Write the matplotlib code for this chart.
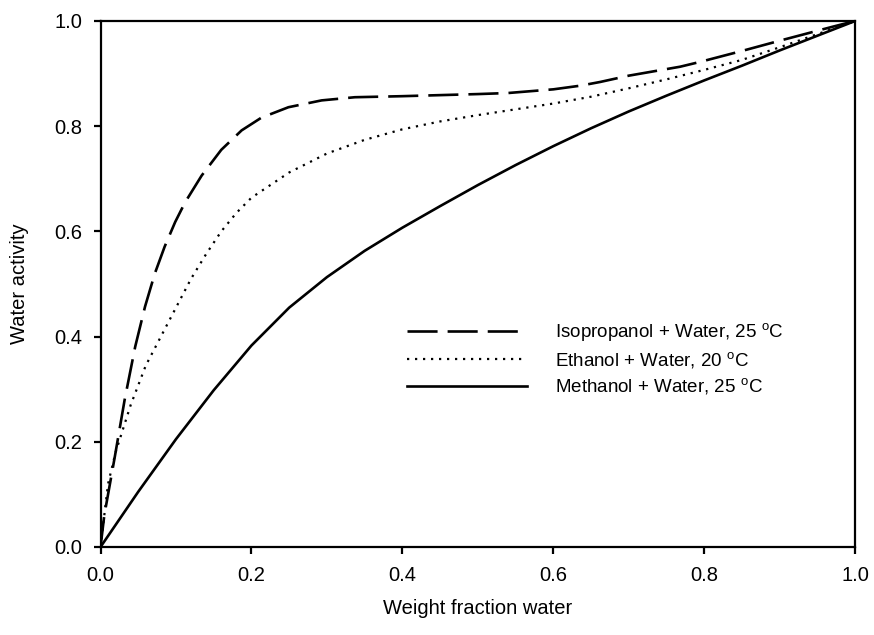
import numpy as np
import matplotlib
matplotlib.use("Agg")
import matplotlib.pyplot as plt

plt.rcParams["font.family"] = ["Liberation Sans", "DejaVu Sans"]
plt.rcParams["mathtext.fontset"] = "custom"
plt.rcParams["mathtext.rm"] = "Liberation Sans"

# Isopropanol + water, 25 C (dashed)
x_iso = [0.0, 0.005, 0.019, 0.032, 0.046, 0.059, 0.072, 0.085, 0.099, 0.112,
         0.134, 0.16, 0.187, 0.213, 0.249, 0.293, 0.337, 0.4, 0.5, 0.54,
         0.6, 0.636, 0.662, 0.7, 0.768, 0.794, 0.85, 0.904, 0.97, 1.0]
y_iso = [0.0, 0.06, 0.172, 0.28, 0.381, 0.457, 0.52, 0.571, 0.618, 0.655,
         0.706, 0.755, 0.792, 0.816, 0.836, 0.849, 0.855, 0.857, 0.861, 0.863,
         0.870, 0.877, 0.884, 0.896, 0.913, 0.922, 0.943, 0.964, 0.989, 1.0]

# Ethanol + water, 20 C (dotted)
x_eth = [0.0, 0.01, 0.02, 0.04, 0.06, 0.08, 0.10, 0.12, 0.14, 0.16, 0.18,
         0.20, 0.25, 0.30, 0.35, 0.40, 0.45, 0.50, 0.55, 0.60, 0.65, 0.70,
         0.75, 0.80, 0.85, 0.90, 0.95, 1.0]
y_eth = [0.0, 0.12, 0.18, 0.27, 0.345, 0.40, 0.455, 0.51, 0.557, 0.60, 0.635,
         0.664, 0.712, 0.748, 0.774, 0.794, 0.809, 0.821, 0.832, 0.843, 0.856,
         0.872, 0.889, 0.907, 0.926, 0.95, 0.975, 1.0]

# Methanol + water, 25 C (solid)
x_met = [0.0, 0.05, 0.10, 0.15, 0.20, 0.25, 0.30, 0.35, 0.40, 0.45, 0.50,
         0.55, 0.60, 0.65, 0.70, 0.75, 0.80, 0.85, 0.90, 0.95, 1.0]
y_met = [0.0, 0.105, 0.205, 0.298, 0.383, 0.455, 0.513, 0.563, 0.607, 0.648,
         0.688, 0.726, 0.762, 0.796, 0.828, 0.858, 0.887, 0.915, 0.944, 0.972, 1.0]

labels = [r"Isopropanol + Water, 25 $^{\rm o}$C",
          r"Ethanol + Water, 20 $^{\rm o}$C",
          r"Methanol + Water, 25 $^{\rm o}$C"]

fig = plt.figure(figsize=(8.74, 6.35), dpi=100)
ax = fig.add_axes([0.115, 0.1386, 0.8635, 0.8284])

ax.plot(x_iso, y_iso, color="black", lw=1.9, linestyle=(0, (11.4, 3.8)), label=labels[0])
ax.plot(x_eth, y_eth, color="black", lw=1.6, linestyle=(0, (1, 2.6)), label=labels[1])
ax.plot(x_met, y_met, color="black", lw=1.9, linestyle="-", label=labels[2])

ax.set_xlim(0, 1)
ax.set_ylim(0, 1)
ax.set_xticks(np.arange(0, 1.01, 0.2))
ax.set_yticks(np.arange(0, 1.01, 0.2))
ax.xaxis.set_major_formatter(matplotlib.ticker.FormatStrFormatter("%.1f"))
ax.yaxis.set_major_formatter(matplotlib.ticker.FormatStrFormatter("%.1f"))
ax.tick_params(direction="out", length=5, width=1.6, labelsize=14.5,
               top=False, right=False)
ax.tick_params(axis="x", pad=9)
ax.tick_params(axis="y", pad=8)
for sp in ax.spines.values():
    sp.set_linewidth(1.6)

ax.set_xlabel("Weight fraction water", fontsize=14.5, labelpad=10)
ax.set_ylabel("Water activity", fontsize=14.5, labelpad=18)

ax.legend(loc="center left", bbox_to_anchor=(0.406, 0.357), frameon=False,
          fontsize=13.5, handlelength=6.4, handletextpad=1.5, labelspacing=0.32,
          borderpad=0, borderaxespad=0)

fig.savefig("out.png", dpi=100)
